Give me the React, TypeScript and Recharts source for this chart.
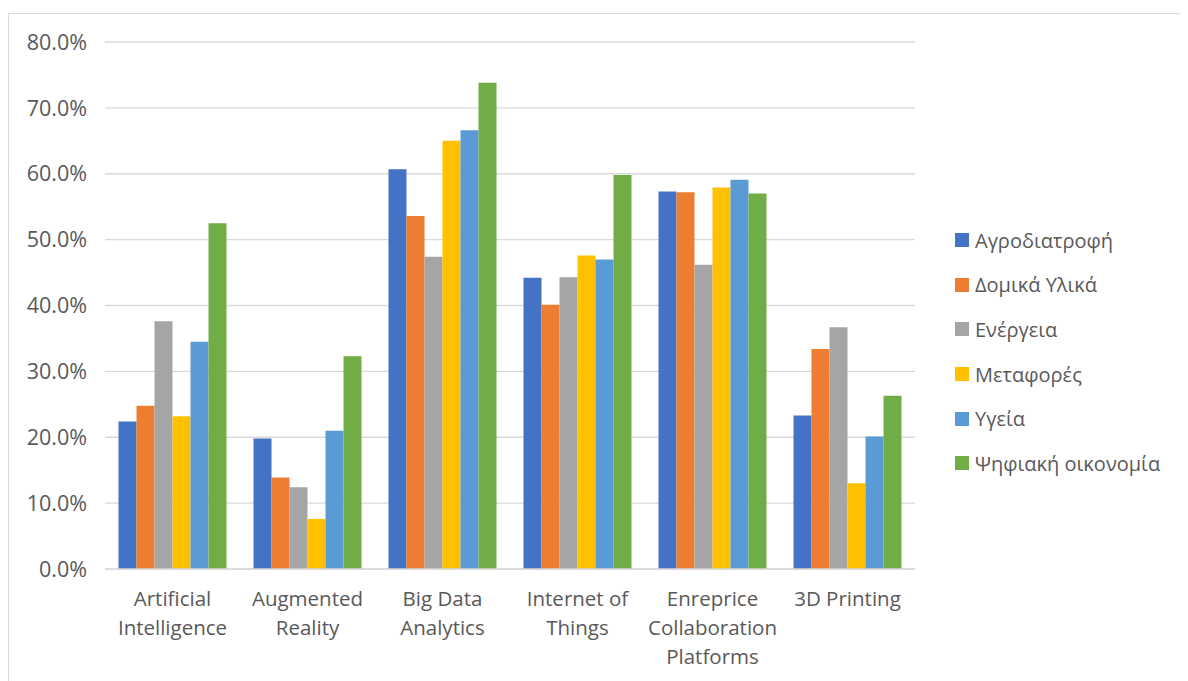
import { Bar, BarChart, CartesianGrid, XAxis, YAxis } from "recharts";

// technology adoption share (%) per sector
const categories = [
  "Artificial Intelligence",
  "Augmented Reality",
  "Big Data Analytics",
  "Internet of Things",
  "Enreprice Collaboration Platforms",
  "3D Printing",
];
// how each category label breaks onto lines under the axis
const categoryLines = [
  ["Artificial", "Intelligence"],
  ["Augmented", "Reality"],
  ["Big Data", "Analytics"],
  ["Internet of", "Things"],
  ["Enreprice", "Collaboration", "Platforms"],
  ["3D Printing"],
];

const agrofood = [22.4, 19.8, 60.7, 44.2, 57.3, 23.3];
const buildingMaterials = [24.8, 13.9, 53.6, 40.1, 57.2, 33.4];
const energy = [37.6, 12.4, 47.4, 44.3, 46.2, 36.7];
const transport = [23.2, 7.6, 65.0, 47.6, 57.9, 13.0];
const health = [34.5, 21.0, 66.6, 47.0, 59.1, 20.1];
const digitalEconomy = [52.5, 32.3, 73.8, 59.8, 57.0, 26.3];

const yTicks = [0, 10, 20, 30, 40, 50, 60, 70, 80];

const series = [
  { key: "agrofood", name: "Αγροδιατροφή", values: agrofood, color: "#4472C4" },
  { key: "building", name: "Δομικά Υλικά", values: buildingMaterials, color: "#ED7D31" },
  { key: "energy", name: "Ενέργεια", values: energy, color: "#A5A5A5" },
  { key: "transport", name: "Μεταφορές", values: transport, color: "#FFC000" },
  { key: "health", name: "Υγεία", values: health, color: "#5B9BD5" },
  { key: "digital", name: "Ψηφιακή οικονομία", values: digitalEconomy, color: "#70AD47" },
];

const data = categories.map((c, i) => {
  const row: Record<string, string | number> = { category: c };
  for (const s of series) row[s.key] = s.values[i];
  return row;
});

const TEXT = "#595959";
const FONT = "'Open Sans', sans-serif";

function CategoryTick({ x, y, payload }: any) {
  const i = categories.indexOf(payload.value);
  const lines = categoryLines[i] ?? [payload.value];
  return (
    <text x={x} y={y} textAnchor="middle" fill={TEXT} fontSize={20.5} fontFamily={FONT}>
      {lines.map((l, k) => (
        <tspan key={k} x={x} dy={k === 0 ? "0.72em" : 29}>
          {l}
        </tspan>
      ))}
    </text>
  );
}

function SideLegend() {
  return (
    <div
      style={{
        position: "absolute",
        left: 946,
        top: 204,
        fontFamily: FONT,
        fontSize: 20,
        color: TEXT,
      }}
    >
      {series.map((s) => (
        <div key={s.key} style={{ display: "flex", alignItems: "center", height: 44.6 }}>
          <span style={{ width: 14, height: 14, background: s.color, marginRight: 6, flex: "none" }} />
          <span style={{ whiteSpace: "nowrap" }}>{s.name}</span>
        </div>
      ))}
    </div>
  );
}

export default function App() {
  return (
    <div
      style={{
        position: "relative",
        marginTop: 5,
        width: 1179,
        height: 667,
        borderTop: "1px solid #d9d9d9",
        borderLeft: "1px solid #d9d9d9",
        background: "#fff",
      }}
    >
      <BarChart
        width={1179}
        height={667}
        data={data}
        margin={{ top: 28, right: 273, bottom: 12, left: 0 }}
        barCategoryGap="10%"
        barGap={0}
      >
        <CartesianGrid vertical={false} stroke="#d9d9d9" strokeWidth={1.3} />
        <XAxis
          dataKey="category"
          interval={0}
          height={100}
          axisLine={{ stroke: "#d9d9d9", strokeWidth: 1.3 }}
          tickLine={false}
          tickSize={6}
          tickMargin={16}
          tick={<CategoryTick />}
        />
        <YAxis
          width={96}
          domain={[0, 80]}
          ticks={yTicks}
          axisLine={false}
          tickLine={false}
          tickSize={6}
          tickMargin={12}
          tickFormatter={(v: number) => `${v.toFixed(1)}%`}
          tick={{ fill: TEXT, fontSize: 21.5, fontFamily: FONT }}
        />
        {series.map((s) => (
          <Bar key={s.key} dataKey={s.key} name={s.name} fill={s.color} isAnimationActive={false} />
        ))}
      </BarChart>
      <SideLegend />
    </div>
  );
}
